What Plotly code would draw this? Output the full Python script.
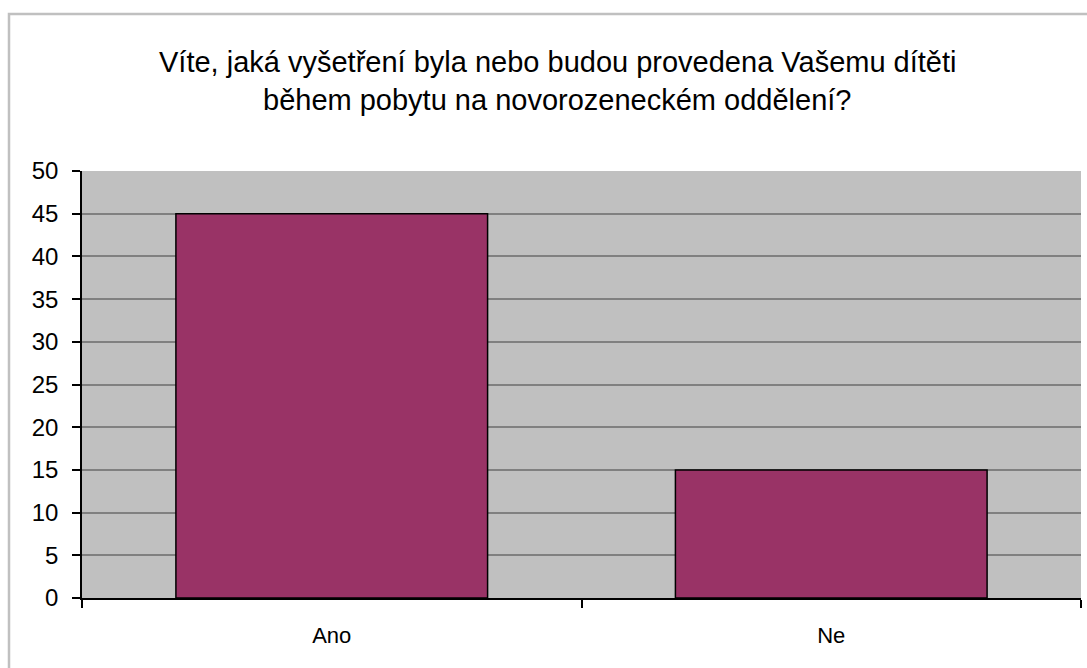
import plotly.graph_objects as go

categories = ["Ano", "Ne"]
values = [45, 15]
title_line1 = "Víte, jaká vyšetření byla nebo budou provedena Vašemu dítěti"
title_line2 = "během pobytu na novorozeneckém oddělení?"

W, H = 1087, 668
L, R, T, B = 82, 1081, 171, 598

def px_x(x):
    return (x - L) / (R - L)

def px_y(y):
    return (B - y) / (B - T)

font = "Liberation Sans, Arial, sans-serif"

fig = go.Figure(go.Bar(
    x=categories, y=values,
    marker=dict(color="#993366", line=dict(color="black", width=1.5)),
))

fig.update_layout(
    width=W, height=H,
    margin=dict(l=L, r=W - R, t=T, b=H - B, pad=0),
    paper_bgcolor="white",
    plot_bgcolor="#C0C0C0",
    bargap=0.376,
    showlegend=False,
    font=dict(family=font, size=22, color="black"),
)

fig.update_xaxes(
    type="category", tickson="boundaries", ticks="outside", ticklen=8,
    tickcolor="black", tickwidth=1.5, showline=True, linecolor="black",
    linewidth=1.5, showgrid=False, ticklabelstandoff=17,
    tickfont=dict(family=font, size=22),
)
fig.update_yaxes(
    range=[0, 50], dtick=5, ticks="outside", ticklen=8, tickcolor="black",
    tickwidth=1.5, showline=True, linecolor="black", linewidth=1.5,
    showgrid=True, gridcolor="#808080", gridwidth=1.5, zeroline=False,
    ticklabelstandoff=9, tickfont=dict(family=font, size=24),
)

for text, y in [(title_line1, 62), (title_line2, 100)]:
    fig.add_annotation(
        text=text, xref="paper", yref="paper", x=px_x(557), y=px_y(y),
        xanchor="center", yanchor="middle", showarrow=False,
        font=dict(family=font, size=29, color="black"),
    )

fig.add_shape(
    type="rect", xref="paper", yref="paper",
    x0=px_x(9), x1=px_x(1120), y0=px_y(720), y1=px_y(14),
    line=dict(color="#C0C0C0", width=2.5), fillcolor="rgba(0,0,0,0)",
    layer="below",
)

fig.write_html("out.html")
